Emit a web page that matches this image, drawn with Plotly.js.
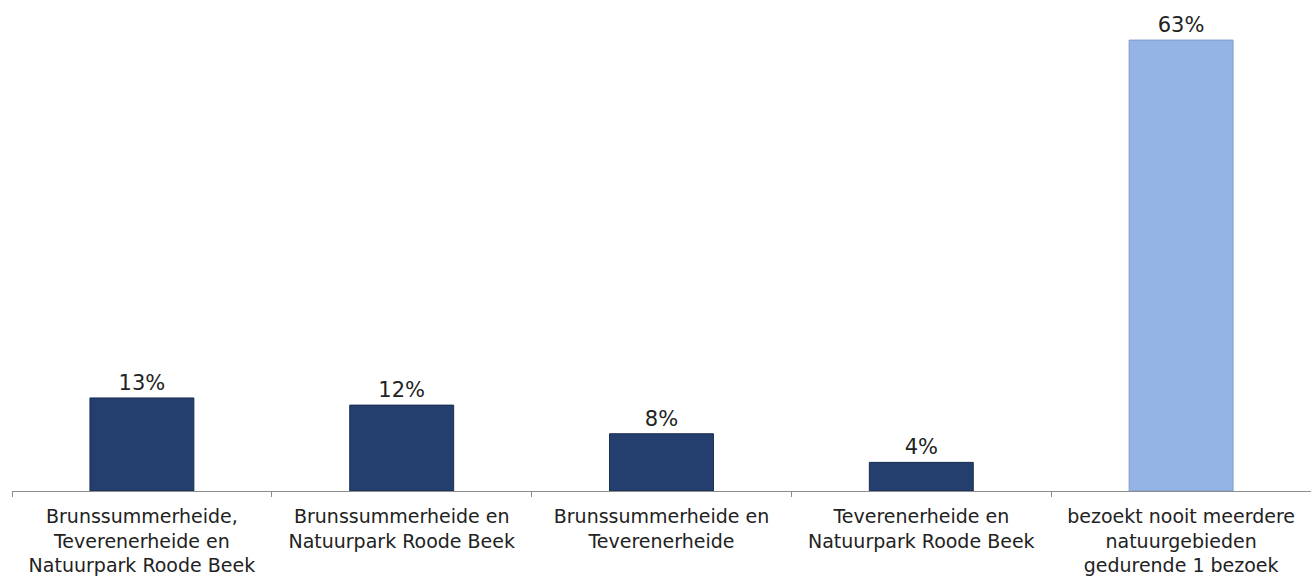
<!DOCTYPE html>
<html>
<head>
<meta charset="utf-8">
<script src="https://cdn.plot.ly/plotly-3.0.1.min.js"></script>
<style>html,body{margin:0;padding:0;background:#fff;}#chart{width:1311px;height:580px;}</style>
</head>
<body>
<div id="chart"></div>
<script>
const categories = [
  "Brunssummerheide,<br>Teverenerheide en<br>Natuurpark Roode Beek",
  "Brunssummerheide en<br>Natuurpark Roode Beek",
  "Brunssummerheide en<br>Teverenerheide",
  "Teverenerheide en<br>Natuurpark Roode Beek",
  "bezoekt nooit meerdere<br>natuurgebieden<br>gedurende 1 bezoek"
];
const values = [13, 12, 8, 4, 63];
const valueLabels = ["13%", "12%", "8%", "4%", "63%"];
const barColors = ["#243F6E", "#243F6E", "#243F6E", "#243F6E", "#94B4E6"];
const lineColors = ["#1A2E52", "#1A2E52", "#1A2E52", "#1A2E52", "#7E9CCB"];

const trace = {
  type: "bar",
  x: categories,
  y: values,
  text: valueLabels,
  textposition: "outside",
  cliponaxis: false,
  textfont: {family: "Verdana, 'DejaVu Sans', sans-serif", size: 21, color: "#222"},
  marker: {color: barColors, line: {color: lineColors, width: 1}},
  width: 0.4,
  hoverinfo: "none"
};

const layout = {
  width: 1311, height: 580,
  margin: {l: 12, r: 0, t: 0, b: 89},
  paper_bgcolor: "#fff", plot_bgcolor: "#fff",
  showlegend: false,
  font: {family: "Verdana, 'DejaVu Sans', sans-serif", size: 19, color: "#222"},
  xaxis: {
    showline: true, linecolor: "#8c8c8c", linewidth: 1,
    ticks: "outside", tickson: "boundaries", ticklen: 5, tickcolor: "#8c8c8c",
    ticklabelstandoff: 8,
    tickfont: {size: 19, color: "#222"},
    showgrid: false, zeroline: false, fixedrange: true
  },
  yaxis: {
    range: [0, 68.6], visible: false, showgrid: false, zeroline: false, fixedrange: true
  }
};

Plotly.newPlot("chart", [trace], layout, {displayModeBar: false, staticPlot: true});
</script>
</body>
</html>
